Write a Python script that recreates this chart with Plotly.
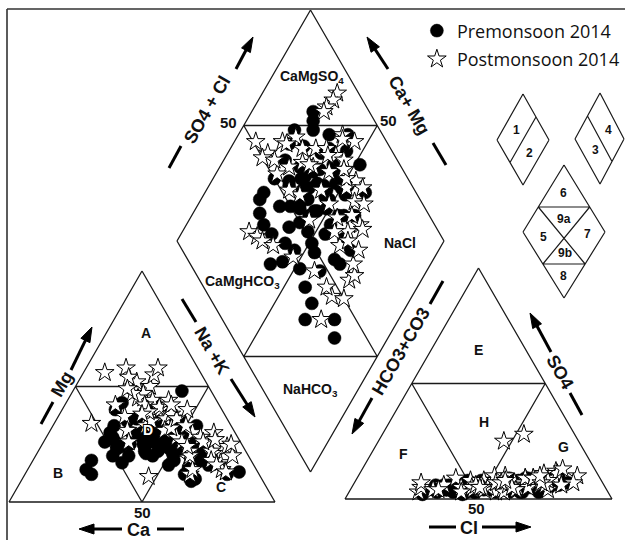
import math
import plotly.graph_objects as go

# ---------------- sample compositions (% of meq/L) ----------------
# Premonsoon 2014
pre_nak = [23,25,27,21,27,35,44,22,22,25, 29,34,40,44,58,65,76,80,23,30, 38,44,52,30,38,45,53,60,31,39,
           46,55,61,39,47,54,62,46,54,63, 52,60,37,20,34,41,23,48,42,54, 51,67,46,34,41,66,64,
           40,43,36,48,50,42,38,45,49,36, 52,44,40,47,33,57,29,35]
pre_mg = [30,28,26,43,35,30,25,18,14,12, 20,17,22,27,20,10,12,13,33,24, 32,20,22,36,27,33,18,15,30,37,
          29,24,19,24,35,28,22,30,26,18, 16,12,34,40,42,48,26,31,26,33, 21,16,25,29,21,20,9,
          30,28,28,27,30,33,25,22,23,32, 27,31,26,24,25,25,23,20]
pre_ca = [47,47,47,36,38,35,31,60,64,63, 51,49,38,29,22,25,12,7,44,46, 30,36,26,34,35,22,29,25,39,24,
          25,21,20,37,18,18,16,24,20,19, 32,28,29,40,24,11,51,21,32,13, 28,17,29,37,38,14,27,
          30,29,36,25,20,25,37,33,28,32, 21,25,34,29,42,18,48,45]
pre_so4 = [5,8,4,6,3,9,6,5,4,6, 3,5,2,4,5,3,6,4,7,5, 8,3,10,6,4,7,5,8,3,6,
           4,9,5,2,7,4,6,3,5,8, 4,3,6,5,9,7,4,5,3,6, 8,5,7,4,6,4,5,
           5,3,6,4,7,5,4,6,3,8, 5,6,3,9,5,4,6,3]
pre_cl = [74,69,71,57,65,64,77,38,36,31, 33,32,28,31,33,28,36,34,51,57, 61,71,75,48,57,60,68,73,43,47,
          55,57,67,43,44,53,57,39,44,47, 36,44,71,63,71,80,46,69,47,55, 42,58,58,58,34,52,32,
          60,64,52,62,66,70,50,52,60,58, 71,49,55,63,55,64,49,47]
pre_hco3 = [21,23,25,37,32,27,17,57,60,63, 64,63,70,65,62,69,58,62,42,38, 31,26,15,46,39,33,27,19,54,47,
            41,34,28,55,49,43,37,58,51,45, 60,53,23,32,20,13,50,26,50,39, 50,37,35,38,60,44,63,
            35,33,42,34,27,25,46,42,37,34, 24,45,42,28,40,32,45,50]

# Postmonsoon 2014
post_nak = [28,28,27,27,22,39,8,15,14,25, 29,32,37,47,71,70,66,73,74,71, 65,27,32,36,41,54,58,58,60,67,
            62,70,35,26,42,36,43,49,18,45, 45,45,62,75,23,57,62,52,19,58,
            30,38,33,50,55,20,40,64,31,47]
post_mg = [45,50,55,58,52,38,56,58,34,37, 31,26,40,11,17,24,21,14,20,25, 22,47,44,41,36,30,28,19,26,18,
           30,16,33,45,38,35,31,28,54,36, 32,36,12,13,47,22,14,26,42,20,
           42,44,39,33,24,49,42,27,38,40]
post_ca = [27,22,18,15,26,23,36,27,52,38, 40,42,23,42,12,6,13,13,6,4, 13,26,24,23,23,16,14,23,14,15,
           8,14,32,29,20,29,26,23,28,19, 23,19,26,12,30,21,24,22,39,22,
           28,18,28,17,21,31,18,9,31,13]
post_so4 = [10,7,12,9,5,11,8,6,4,3, 5,7,4,6,4,9,5,8,6,10, 25,5,8,6,4,11,28,7,5,9,
            6,4,7,3,9,5,10,6,4,13, 8,4,7,5,6,3,6,9,5,3,
            6,9,4,7,5,7,6,8,5,10]
post_cl = [82,82,73,74,62,74,43,47,46,26, 26,25,31,34,33,37,41,48,53,51, 47,62,64,70,74,69,53,68,66,63,
           60,62,60,55,63,51,55,59,57,75, 72,50,53,45,46,58,72,66,49,42,
           58,66,62,70,60,55,78,56,48,68]
post_hco3 = [8,11,15,17,33,15,49,47,50,71, 69,68,65,60,63,54,54,44,41,39, 28,33,28,24,22,20,19,25,29,28,
             34,34,33,42,28,44,35,35,39,12, 20,46,40,50,48,39,22,25,46,55,
             36,25,34,23,35,38,16,36,47,22]

series_names = ["Premonsoon 2014", "Postmonsoon 2014"]

# ---------------- diagram geometry (canvas units, y grows downward) ----------------
CAT_CA, CAT_MG, CAT_NA = (9, 502), (142, 271), (275, 502)
AN_HC, AN_SO4, AN_CL = (345, 499), (478.5, 268), (612, 499)
DIA_B, DIA_L, DIA_R = (310.5, 472), (177, 241), (444, 241)
DIA_T = (DIA_L[0] + DIA_R[0] - DIA_B[0], DIA_L[1] + DIA_R[1] - DIA_B[1])

LINE_C = "#1a1a1a"


def mid(p, q):
    return ((p[0] + q[0]) / 2, (p[1] + q[1]) / 2)


def ternary(a, b, c, A, B, C):
    xs, ys = [], []
    for u, v, w in zip(a, b, c):
        s = u + v + w
        xs.append((u * A[0] + v * B[0] + w * C[0]) / s)
        ys.append((u * A[1] + v * B[1] + w * C[1]) / s)
    return xs, ys


def diamond(ca, mg, nak, hco3, so4, cl):
    xs, ys = [], []
    for c1, m1, n1, h1, s1, l1 in zip(ca, mg, nak, hco3, so4, cl):
        a = (c1 + m1) / (c1 + m1 + n1)
        b = (s1 + l1) / (h1 + s1 + l1)
        xs.append(DIA_B[0] + a * (DIA_L[0] - DIA_B[0]) + b * (DIA_R[0] - DIA_B[0]))
        ys.append(DIA_B[1] + a * (DIA_L[1] - DIA_B[1]) + b * (DIA_R[1] - DIA_B[1]))
    return xs, ys


def all_positions(ca, mg, nak, hco3, so4, cl):
    cx, cy = ternary(ca, mg, nak, CAT_CA, CAT_MG, CAT_NA)
    ax, ay = ternary(hco3, so4, cl, AN_HC, AN_SO4, AN_CL)
    dx, dy = diamond(ca, mg, nak, hco3, so4, cl)
    return cx + ax + dx, cy + ay + dy


def path_of(segs):
    return " ".join(f"M{a[0]:.2f},{a[1]:.2f} L{b[0]:.2f},{b[1]:.2f}" for a, b in segs)


shapes = []


def add_segs(segs, width=1.3, color=LINE_C):
    shapes.append(dict(type="path", xref="x", yref="y", path=path_of(segs),
                       line=dict(color=color, width=width), layer="below"))


def tri_segs(A, B, C):
    mAB, mBC, mAC = mid(A, B), mid(B, C), mid(A, C)
    return [(A, B), (B, C), (C, A), (mAB, mBC), (mAB, mAC), (mBC, mAC)]


# main triangles
add_segs(tri_segs(CAT_CA, CAT_MG, CAT_NA))
add_segs(tri_segs(AN_HC, AN_SO4, AN_CL))

# main diamond
mLT, mTR, mLB, mBR = mid(DIA_L, DIA_T), mid(DIA_T, DIA_R), mid(DIA_L, DIA_B), mid(DIA_B, DIA_R)
add_segs([(DIA_B, DIA_L), (DIA_L, DIA_T), (DIA_T, DIA_R), (DIA_R, DIA_B),
          (mLT, mTR), (mLB, mBR), (mLT, mBR), (mTR, mLB)])


# small key diamonds
def rhombus(T, L, R, B):
    return [(T, L), (L, B), (B, R), (R, T)]


K1 = dict(T=(523, 94), L=(497, 140), R=(549, 140), B=(523, 185))
K2 = dict(T=(600, 93), L=(575, 139), R=(624, 139), B=(600, 184))
K3 = dict(T=(564, 165), L=(523, 232), R=(605, 232), B=(564, 298))
k1 = rhombus(**K1) + [(mid(K1["T"], K1["R"]), mid(K1["L"], K1["B"]))]
k2 = rhombus(**K2) + [(mid(K2["T"], K2["L"]), mid(K2["R"], K2["B"]))]


def on_edge(P, Q, y):
    t = (y - P[1]) / (Q[1] - P[1])
    return (P[0] + t * (Q[0] - P[0]), y)


u_l, u_r = on_edge(K3["T"], K3["L"], 207), on_edge(K3["T"], K3["R"], 207)
d_l, d_r = on_edge(K3["L"], K3["B"], 264), on_edge(K3["R"], K3["B"], 264)
k3 = rhombus(**K3) + [(u_l, u_r), (d_l, d_r), (u_l, d_r), (u_r, d_l)]
add_segs(k1 + k2 + k3, width=1.2)

# frame (top and left edges)
add_segs([((7, 9), (625, 9)), ((7, 9), (7, 540))], width=1.6, color="#333333")


# ---------------- axis-name arrows and dashes ----------------
def arrow(tail, tip, head_len=15, head_w=10, lw=3):
    dx, dy = tip[0] - tail[0], tip[1] - tail[1]
    L = math.hypot(dx, dy)
    ux, uy = dx / L, dy / L
    px, py = -uy, ux
    base = (tip[0] - ux * head_len, tip[1] - uy * head_len)
    shaft_end = (base[0] + ux * 2, base[1] + uy * 2)
    shapes.append(dict(type="path", xref="x", yref="y", path=path_of([(tail, shaft_end)]),
                       line=dict(color="black", width=lw)))
    p1 = (base[0] + px * head_w / 2, base[1] + py * head_w / 2)
    p2 = (base[0] - px * head_w / 2, base[1] - py * head_w / 2)
    shapes.append(dict(type="path", xref="x", yref="y",
                       path=f"M{tip[0]:.2f},{tip[1]:.2f} L{p1[0]:.2f},{p1[1]:.2f} L{p2[0]:.2f},{p2[1]:.2f} Z",
                       fillcolor="black", line=dict(color="black", width=1)))


def dash(p, q, lw=3):
    shapes.append(dict(type="path", xref="x", yref="y", path=path_of([(p, q)]),
                       line=dict(color="black", width=lw)))


# Mg
dash((41, 424), (53, 402)); arrow((71, 370), (92, 327))
# Ca
arrow((122, 529), (79, 529)); dash((157, 529), (184, 529))
# Na + K
dash((182, 299), (196, 322)); arrow((231, 379), (255, 417))
# SO4 + Cl
dash((169, 168), (181, 146)); arrow((236, 69), (253, 37))
# Ca + Mg
arrow((388, 69), (367, 37)); dash((433, 143), (446, 165))
# HCO3 + CO3
dash((443, 281), (430, 304)); arrow((372, 398), (352, 434))
# SO4
arrow((551, 352), (530, 313)); dash((570, 393), (582, 415))
# Cl
dash((429, 527), (456, 527)); arrow((482, 527), (531, 527))

# ---------------- text ----------------
BOLD = "Liberation Sans, Arial, Helvetica, sans-serif"
annotations = []


def label(x, y, text, size=14, angle=0, color="#111111", shadow=None):
    f = dict(family=BOLD, size=size, color=color)
    if shadow:
        f["shadow"] = shadow
    annotations.append(dict(x=x, y=y, xref="x", yref="y", text=f"<b>{text}</b>", showarrow=False,
                            textangle=angle, font=f, xanchor="center", yanchor="middle"))


# zone letters
label(146, 333, "A"); label(58, 473, "B"); label(221, 487, "C")
label(148, 430, "D", color="white",
      shadow="-1px -1px 0 #000, 1px -1px 0 #000, -1px 1px 0 #000, 1px 1px 0 #000")
label(478, 350, "E"); label(403, 454, "F"); label(563, 447, "G"); label(484, 422, "H")
# 50 marks
label(142, 512, "50", size=15); label(476, 508, "50", size=15)
label(228, 122, "50", size=15); label(388, 120, "50", size=15)
# diamond facies
label(312, 77, "CaMgSO<sub>4</sub>"); label(400, 243, "NaCl")
label(242, 282, "CaMgHCO<sub>3</sub>"); label(310, 390, "NaHCO<sub>3</sub>")
# key diamond numbers
for (x, y, t) in [(516, 130, "1"), (529, 153, "2"), (595, 150, "3"), (608, 130, "4"),
                  (563, 193, "6"), (564, 219, "9a"), (543, 237, "5"), (587, 234, "7"),
                  (565, 253, "9b"), (563, 276, "8")]:
    label(x, y, t, size=12)
# axis names
AX = 18
label(62, 384, "Mg", size=AX, angle=-60)
label(139, 530, "Ca", size=AX)
label(212, 351, "Na +K", size=AX, angle=60)
label(207, 110, "SO4 + Cl", size=AX, angle=-60)
label(409, 105, "Ca+ Mg", size=AX, angle=60)
label(401, 351, "HCO3+CO3", size=AX, angle=-60)
label(560, 372, "SO4", size=AX, angle=60)
label(469, 528, "Cl", size=AX)

# ---------------- data traces ----------------
fig = go.Figure()
px_pre, py_pre = all_positions(pre_ca, pre_mg, pre_nak, pre_hco3, pre_so4, pre_cl)
px_post, py_post = all_positions(post_ca, post_mg, post_nak, post_hco3, post_so4, post_cl)

fig.add_trace(go.Scatter(x=px_pre, y=py_pre, mode="markers", name=series_names[0],
                         legendgroup="pre", legendrank=1,
                         marker=dict(symbol="circle", size=13, color="black",
                                     line=dict(color="black", width=0.5))))
fig.add_trace(go.Scatter(x=px_post, y=py_post, mode="markers", name=series_names[1],
                         legendgroup="post", legendrank=2,
                         marker=dict(symbol="star", size=14, color="white",
                                     line=dict(color="black", width=1))))

fig.update_layout(
    width=625, height=540,
    margin=dict(l=0, r=0, t=0, b=0),
    paper_bgcolor="white", plot_bgcolor="white",
    xaxis=dict(range=[0, 625], visible=False, fixedrange=True),
    yaxis=dict(range=[540, 0], visible=False, fixedrange=True),
    shapes=shapes,
    annotations=annotations,
    showlegend=True,
    legend=dict(x=0.667, y=0.977, xanchor="left", yanchor="top",
                font=dict(family="Open Sans, Noto Sans, sans-serif", size=18, color="#111111"),
                bgcolor="rgba(0,0,0,0)", tracegroupgap=2, itemsizing="trace"),
)

fig.write_html("out.html")
